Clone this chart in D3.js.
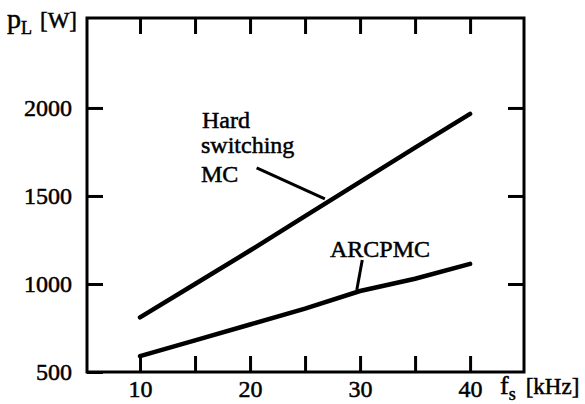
<!DOCTYPE html>
<html lang="en">
<head>
    <meta charset="UTF-8">
    <title>Loss power vs switching frequency</title>
    <style>
        body { margin: 0; background: #fff; }
        svg text { font-family: "Liberation Serif", "Times New Roman", serif; fill: #000; stroke: #000; stroke-width: 0.5px; }
        .axis path { display: none; }
        .axis line { stroke: #000; stroke-width: 3; }
    </style>
</head>
<body>
    <script src="https://d3js.org/d3.v7.min.js"></script>
    <script>

        // data
        var freq = [10, 15, 20, 25, 30, 35, 40];
        var hardSwitching = [810, 1000, 1190, 1385, 1580, 1775, 1966];
        var arcpmc = [590, 680, 770, 860, 960, 1030, 1114];
        var xTicks = [10, 15, 20, 25, 30, 35, 40];
        var xLabels = [10, 20, 30, 40];
        var yTicks = [500, 1000, 1500, 2000];

        var width = 585;
        var height = 404;
        var serif = "'Liberation Serif', 'Times New Roman', serif";

        var x = d3.scaleLinear().domain([5.18, 44.9]).range([87, 524]);
        var y = d3.scaleLinear().domain([500, 2511]).range([372, 18]);

        var svg = d3.select("body").append("svg")
            .attr("width", width)
            .attr("height", height)
            .attr("font-family", serif);

        // frame
        svg.append("rect")
            .attr("x", x.range()[0]).attr("y", y.range()[1])
            .attr("width", x.range()[1] - x.range()[0])
            .attr("height", y.range()[0] - y.range()[1])
            .attr("fill", "none").attr("stroke", "#000").attr("stroke-width", 3);

        // ticks point inward on all four sides
        var fmtX = function(d) { return xLabels.indexOf(d) >= 0 ? d : ""; };
        function styleAxis(g) {
            g.attr("font-family", serif).attr("font-size", 24);
            g.selectAll("text").style("font-family", serif).style("font-size", "24px");
        }
        svg.append("g").attr("class", "axis")
            .attr("transform", "translate(0," + y.range()[0] + ")")
            .call(d3.axisBottom(x).tickValues(xTicks).tickFormat(fmtX).tickSize(-16).tickPadding(8))
            .call(styleAxis);
        svg.append("g").attr("class", "axis")
            .attr("transform", "translate(0," + y.range()[1] + ")")
            .call(d3.axisTop(x).tickValues(xTicks).tickFormat("").tickSize(-16));
        svg.append("g").attr("class", "axis")
            .attr("transform", "translate(" + x.range()[0] + ",0)")
            .call(d3.axisLeft(y).tickValues(yTicks).tickFormat(d3.format("d")).tickSize(-16).tickPadding(15))
            .call(styleAxis);
        svg.append("g").attr("class", "axis")
            .attr("transform", "translate(" + x.range()[1] + ",0)")
            .call(d3.axisRight(y).tickValues(yTicks.slice(1)).tickFormat("").tickSize(-16));

        // curves
        var line = d3.line()
            .x(function(d, i) { return x(freq[i]); })
            .y(function(d) { return y(d); });

        [hardSwitching, arcpmc].forEach(function(s) {
            svg.append("path")
                .attr("d", line(s))
                .attr("fill", "none")
                .attr("stroke", "#000")
                .attr("stroke-width", 4.5)
                .attr("stroke-linecap", "round");
        });

        // leader lines
        var leaders = [
            [[20.6, 1659], [26.8, 1483]],
            [[30.2, 1136], [29.7, 966]]
        ];
        leaders.forEach(function(l) {
            svg.append("line")
                .attr("x1", x(l[0][0])).attr("y1", y(l[0][1]))
                .attr("x2", x(l[1][0])).attr("y2", y(l[1][1]))
                .attr("stroke", "#000").attr("stroke-width", 3);
        });

        // curve labels
        var lab = svg.append("g").style("font-size", "24px");
        lab.append("text").attr("x", 202).attr("y", 128).text("Hard");
        lab.append("text").attr("x", 201).attr("y", 153).text("switching");
        lab.append("text").attr("x", 201).attr("y", 182).text("MC");
        lab.append("text").attr("x", 330).attr("y", 257).text("ARCPMC");

        // axis titles
        var yt = svg.append("text").attr("x", 7).attr("y", 28).style("font-size", "28px");
        yt.append("tspan").text("p");
        yt.append("tspan").attr("dy", 6).style("font-size", "18px").text("L");
        yt.append("tspan").attr("dy", -6).attr("dx", 8).style("font-size", "23px").text("[W]");

        var xt = svg.append("text").attr("x", 500).attr("y", 394).style("font-size", "26px");
        xt.append("tspan").text("f");
        xt.append("tspan").attr("dy", 6).style("font-size", "18px").text("s");
        xt.append("tspan").attr("dy", -6).attr("dx", 10).style("font-size", "23px").text("[kHz]");

    </script>
</body>
</html>
